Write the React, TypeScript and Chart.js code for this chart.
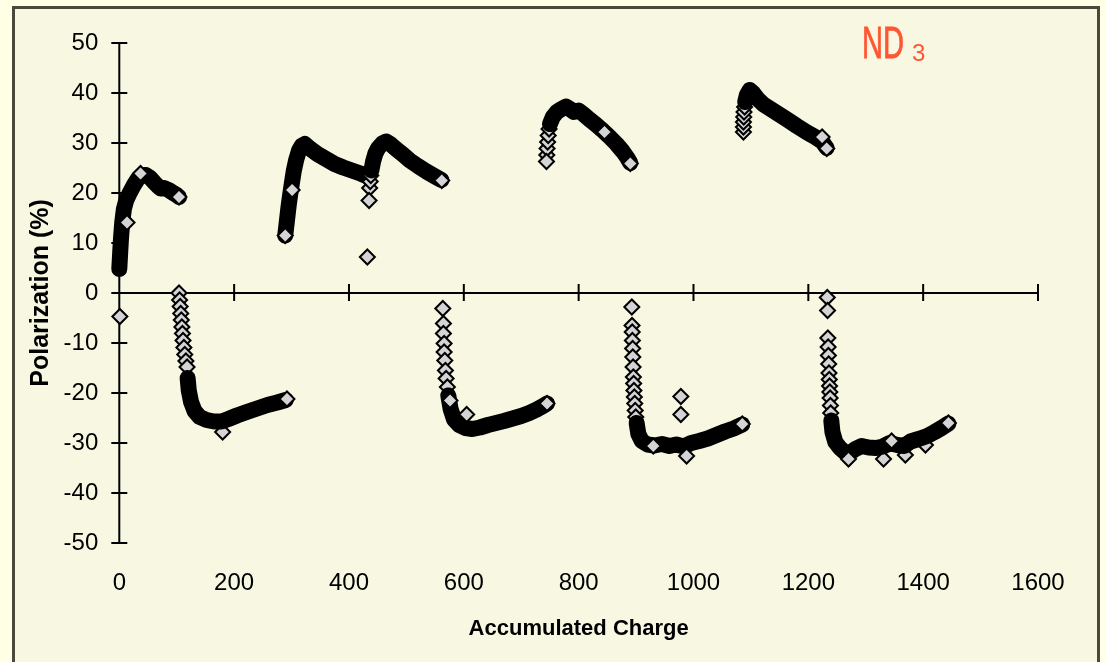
import React, { useEffect, useRef } from 'react';
import { Chart, registerables } from 'chart.js';

Chart.register(...registerables);

type Pt = [number, number];

// Axis ticks
const xTickValues = [0, 200, 400, 600, 800, 1000, 1200, 1400, 1600];
const yTickValues = [-50, -40, -30, -20, -10, 0, 10, 20, 30, 40, 50];

// ---- Run P1 (positive) ----
const p1Trace: Pt[] = [[0,4.8],[1.5,8],[3,11],[5,14],[8,16.8],[12,18.5],[18,20],[25,21.5],[32,22.8],[38,23.5],[46,23.6],[54,23],[61,22.1],[67,21.4],[72,20.9],[78,21],[86,20.6],[94,20],[100,19.6],[104,19.2]];
const p1Marks: Pt[] = [[13.5,14.1],[37,23.9],[104,19.2]];

// ---- Run N1 (negative) ----
const n1Steps: Pt[] = [[104,0],[105,-1.4],[106,-2.7],[107,-4.1],[108,-5.4],[109,-6.8],[110,-8.1],[111,-9.5],[112.5,-10.9],[114,-12.3],[116,-13.6],[118,-14.8],[180,-27.8]];
const n1Trace: Pt[] = [[119,-17],[121,-19.5],[125,-21.8],[131,-23.6],[140,-24.8],[152,-25.4],[165,-25.7],[178,-25.7],[190,-25.2],[205,-24.5],[222,-23.8],[240,-23.1],[258,-22.4],[275,-21.9],[290,-21.4]];
const n1Marks: Pt[] = [[292,-21.2]];

// ---- Run P2 ----
const p2Trace: Pt[] = [[289,11.5],[292,14.5],[295,17.5],[298,20],[301,22.3],[304,24.5],[308,26.6],[313,28.5],[318,29.5],[323,29.8],[332,28.9],[345,27.8],[360,26.8],[375,25.8],[390,25.1],[405,24.5],[420,23.9],[433,23.3]];
const p2Marks: Pt[] = [[289,11.5],[301,20.6]];

// ---- Run P3 ----
const p3Steps: Pt[] = [[436,21],[437,22.3],[438,23.5]];
const p3Trace: Pt[] = [[439,24.5],[442,26.3],[446,27.9],[451,29],[458,29.9],[465,30.3],[472,29.8],[482,28.8],[494,27.7],[506,26.5],[520,25.4],[535,24.3],[550,23.3],[561,22.6]];
const p3Marks: Pt[] = [[435,18.5],[561.6,22.5]];

// ---- Run N2 ----
const n2Steps: Pt[] = [[563.4,-3.1],[564.5,-6.1],[564.5,-8.1],[565.7,-10.1],[565.7,-11.8],[566.9,-13.5],[568,-15.5],[569.2,-17.1],[571.4,-18.8]];
const n2Trace: Pt[] = [[573,-20.5],[577,-23.2],[583,-25.3],[592,-26.4],[603,-27],[615,-27.2],[628,-26.9],[642,-26.4],[656,-26],[670,-25.6],[685,-25.1],[700,-24.6],[714,-24],[727,-23.3],[738,-22.6],[745,-22.1]];
const n2Marks: Pt[] = [[576,-21.5],[605,-24.3],[745,-22.1]];

// ---- Run P4 ----
const p4Steps: Pt[] = [[744.5,27.6],[745,28.9],[746,30.2],[747,31.5],[748.5,32.8]];
const p4Trace: Pt[] = [[750,33.8],[755,35.2],[762,36.2],[770,36.8],[778,37.3],[785,36.8],[792,36.2],[800,36.5],[808,35.8],[818,34.8],[830,33.7],[842,32.5],[854,31.2],[866,29.8],[877,28.3],[885,27],[890,26]];
const p4Marks: Pt[] = [[744,26.3],[845,32.2],[890,25.9]];

// ---- Run N3 ----
const n3Steps: Pt[] = [[892.6,-2.8],[893,-6.5],[893.3,-7.8],[893.6,-9.5],[894,-11.1],[894.3,-12.8],[894.8,-14.8],[895.3,-16.8],[895.8,-18.1],[896.3,-19.5],[897,-20.8],[897.7,-22.1],[898.5,-23.5],[899.5,-24.8]];
const n3Trace: Pt[] = [[901,-26],[904,-28.2],[910,-29.6],[920,-30.3],[932,-30.5],[945,-30.2],[958,-30.6],[970,-30.3],[983,-30.7],[996,-30],[1010,-29.6],[1025,-29.1],[1040,-28.4],[1055,-27.7],[1070,-27.1],[1085,-26.3]];
const n3Marks: Pt[] = [[930,-30.6],[1085,-26.2]];

// ---- Run P5 ----
const p5Steps: Pt[] = [[1087,32.2],[1087,33.2],[1087,34.2],[1087.5,35.2],[1088,36.2],[1089,37.2]];
const p5Trace: Pt[] = [[1090,38.2],[1093,39.6],[1098,40.6],[1104,40],[1112,38.8],[1122,37.7],[1133,36.9],[1148,35.8],[1163,34.7],[1180,33.4],[1198,32.1],[1212,31.2],[1224,30.3],[1232,29]];
const p5Marks: Pt[] = [[1224,31.2],[1232,28.9]];

// ---- Run N4 ----
const n4Steps: Pt[] = [[1233,-0.9],[1233.5,-3.5],[1234,-9],[1234.5,-10.8],[1235,-12.5],[1235.5,-14.2],[1236,-16],[1236.5,-17.3],[1237,-18.6],[1237.5,-19.8],[1238,-21],[1238.5,-22.5],[1239,-24],[1331,-33.2],[1369,-32.4],[1404,-30.4]];
const n4Trace: Pt[] = [[1240,-25.5],[1242,-27.8],[1247,-29.8],[1255,-31],[1263,-31.8],[1272,-32],[1282,-31.2],[1293,-30.6],[1305,-30.9],[1318,-31],[1330,-30.7],[1342,-30],[1355,-30.4],[1367,-30.6],[1378,-29.7],[1392,-29.2],[1407,-28.6],[1420,-27.8],[1432,-27],[1444,-26.1]];
const n4Marks: Pt[] = [[1270,-33.2],[1345,-29.6],[1444,-26]];

// Isolated readings
const outliers: Pt[] = [[1,-4.7],[432,7.2],[978,-20.7],[978,-24.3],[988,-32.6]];

const runs: { steps: Pt[]; trace: Pt[]; marks: Pt[] }[] = [
  { steps: [], trace: p1Trace, marks: p1Marks },
  { steps: n1Steps, trace: n1Trace, marks: n1Marks },
  { steps: [], trace: p2Trace, marks: p2Marks },
  { steps: p3Steps, trace: p3Trace, marks: p3Marks },
  { steps: n2Steps, trace: n2Trace, marks: n2Marks },
  { steps: p4Steps, trace: p4Trace, marks: p4Marks },
  { steps: n3Steps, trace: n3Trace, marks: n3Marks },
  { steps: p5Steps, trace: p5Trace, marks: p5Marks },
  { steps: n4Steps, trace: n4Trace, marks: n4Marks },
];

const FONT = "'Liberation Sans', Arial, sans-serif";

const toXY = (pts: Pt[]) => pts.map(([x, y]) => ({ x, y }));

const crossAxes = {
  id: 'crossAxes',
  beforeDatasetsDraw(chart: any) {
    const { ctx, scales } = chart;
    const xs = scales.x, ys = scales.y;
    const x0 = xs.getPixelForValue(0);
    const y0 = ys.getPixelForValue(0);
    ctx.save();
    ctx.strokeStyle = '#000';
    ctx.lineWidth = 2;
    ctx.beginPath();
    ctx.moveTo(x0, ys.getPixelForValue(50));
    ctx.lineTo(x0, ys.getPixelForValue(-50));
    ctx.moveTo(xs.getPixelForValue(0), y0);
    ctx.lineTo(xs.getPixelForValue(1600), y0);
    ys.ticks.forEach((t: any) => {
      const p = ys.getPixelForValue(t.value);
      ctx.moveTo(x0 - 8, p);
      ctx.lineTo(x0 + 8, p);
    });
    xs.ticks.forEach((t: any) => {
      const p = xs.getPixelForValue(t.value);
      ctx.moveTo(p, y0 - 9);
      ctx.lineTo(p, y0 + 8);
    });
    ctx.stroke();
    ctx.restore();
  },
};

export default function App() {
  const ref = useRef<HTMLCanvasElement>(null);

  useEffect(() => {
    const datasets: any[] = [];
    let k = 0;
    const markStyle = {
      showLine: false,
      pointStyle: 'rectRot',
      pointRadius: 7.5,
      pointBackgroundColor: '#D4D4D4',
      pointBorderColor: '#000',
      pointBorderWidth: 2,
      backgroundColor: '#D4D4D4',
      borderColor: '#000',
      clip: false,
    };
    runs.forEach((r) => {
      if (r.steps.length) {
        datasets.push({ ...markStyle, data: toXY(r.steps), order: 1000 - k++ });
      }
      datasets.push({
        data: toXY(r.trace),
        showLine: true,
        borderColor: '#000',
        backgroundColor: '#000',
        borderWidth: 16,
        borderCapStyle: 'round',
        borderJoinStyle: 'round',
        pointRadius: 0,
        tension: 0,
        clip: false,
        order: 1000 - k++,
      });
      datasets.push({ ...markStyle, data: toXY(r.marks), order: 1000 - k++ });
    });
    datasets.push({ ...markStyle, data: toXY(outliers), order: 1000 - k++ });

    const chart = new Chart(ref.current!, {
      type: 'scatter',
      data: { datasets },
      plugins: [crossAxes],
      options: {
        responsive: false,
        animation: false,
        events: [],
        layout: { padding: { left: 14, top: 43, right: 67, bottom: 19 } },
        plugins: { legend: { display: false }, tooltip: { enabled: false } },
        scales: {
          x: {
            type: 'linear',
            min: 0,
            max: 1600,
            grid: { display: false },
            border: { display: false },
            afterFit: (s: any) => { s.height = 100; },
            afterBuildTicks: (s: any) => { s.ticks = xTickValues.map((v) => ({ value: v })); },
            ticks: {
              padding: 18,
              maxRotation: 0,
              autoSkip: false,
              color: '#000',
              font: { family: FONT, size: 24 },
              callback: (v: any) => String(v),
            },
            title: {
              display: true,
              text: 'Accumulated Charge',
              color: '#000',
              font: { family: FONT, size: 22, weight: 'bold' },
              padding: { top: 0, bottom: 1 },
            },
          },
          y: {
            type: 'linear',
            min: -50,
            max: 50,
            grid: { display: false },
            border: { display: false },
            afterFit: (s: any) => { s.width = 105.3; },
            afterBuildTicks: (s: any) => { s.ticks = yTickValues.map((v) => ({ value: v })); },
            ticks: {
              padding: 13,
              color: '#000',
              font: { family: FONT, size: 24 },
              callback: (v: any) => String(v),
            },
            title: {
              display: true,
              text: 'Polarization (%)',
              color: '#000',
              font: { family: FONT, size: 25, weight: 'bold' },
              padding: { top: 12, bottom: 0 },
            },
          },
        },
      },
    });
    return () => chart.destroy();
  }, []);

  return (
    <div style={{ position: 'fixed', left: 0, top: 0, width: 1105, height: 662, background: '#FFFFE6', overflow: 'hidden' }}>
      <div
        style={{
          position: 'absolute',
          left: 12,
          top: 6,
          width: 1088,
          height: 720,
          boxSizing: 'border-box',
          background: '#F8F8E2',
          border: '3px solid #4A4A3A',
        }}
      />
      <canvas ref={ref} width={1105} height={662} style={{ position: 'absolute', left: 0, top: 0 }} />
      <div style={{ position: 'absolute', left: 862, top: 21, color: '#FF5533', fontFamily: FONT, whiteSpace: 'nowrap' }}>
        <span style={{ display: 'inline-block', fontSize: 44, lineHeight: 1, transform: 'scaleX(0.66)', transformOrigin: '0 0', WebkitTextStroke: '0.8px #FF5533' }}>ND</span>
        <span style={{ position: 'absolute', left: 50, top: 20, fontSize: 24, lineHeight: 1 }}>3</span>
      </div>
    </div>
  );
}
